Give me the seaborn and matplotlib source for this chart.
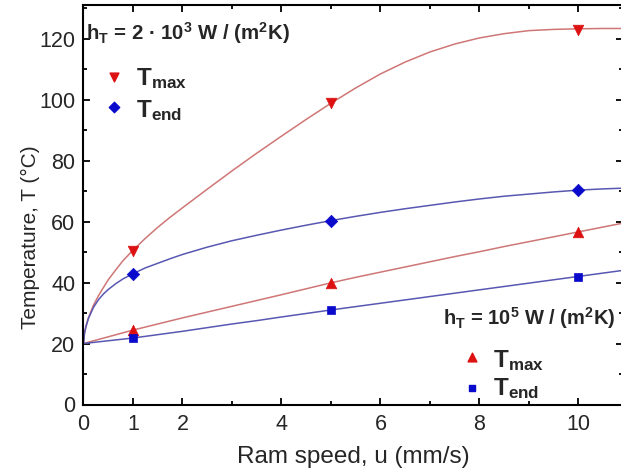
import numpy as np
import pandas as pd
import matplotlib
matplotlib.use("Agg")
import matplotlib.pyplot as plt
import seaborn as sns
from matplotlib.ticker import FixedLocator

# ---- data ----
u_meas = [1, 5, 10]
tmax_low_h = [50.3, 98.8, 122.9]     # h_T = 2e3
tend_low_h = [42.9, 60.3, 70.3]
tmax_high_h = [24.4, 39.9, 56.6]     # h_T = 1e5
tend_high_h = [21.8, 31.0, 41.9]

# fitted curves
u_curve = [0, 0.02, 0.05, 0.1, 0.2, 0.3, 0.4, 0.5, 0.65, 0.8, 1, 1.25, 1.5, 1.75, 2,
           2.5, 3, 3.5, 4, 4.5, 5, 5.5, 6, 6.5, 7, 7.5, 8, 8.5, 9, 9.5, 10, 10.5, 11]
fit_tmax_low_h = [20, 23.5, 25.8, 28.5, 32.5, 35.6, 38.3, 40.9, 44.1, 47.2, 50.6, 54.5,
                  58.1, 61.4, 64.5, 70.6, 76.6, 82.4, 88.0, 93.5, 98.8, 103.8, 108.4,
                  112.3, 115.6, 118.2, 120.2, 121.6, 122.6, 123.0, 123.2, 123.3, 123.3]
fit_tend_low_h = [20, 23.3, 25.5, 28.2, 31.8, 34.3, 36.2, 37.7, 39.6, 41.2, 42.9, 44.8,
                  46.3, 47.8, 49.2, 51.6, 53.7, 55.5, 57.2, 58.8, 60.3, 61.7, 63.0,
                  64.2, 65.3, 66.4, 67.4, 68.3, 69.0, 69.7, 70.3, 70.7, 71.0]
fit_tmax_high_h = [20, 20.09, 20.22, 20.44, 20.88, 21.32, 21.76, 22.2, 22.86, 23.52, 24.4,
                   25.4, 26.4, 27.4, 28.4, 30.3, 32.2, 34.1, 36.0, 37.95, 39.9, 41.7,
                   43.4, 45.1, 46.8, 48.5, 50.1, 51.8, 53.4, 55.0, 56.6, 58.2, 59.8]
fit_tend_high_h = [20, 20.04, 20.09, 20.18, 20.36, 20.54, 20.72, 20.9, 21.17, 21.44, 21.8,
                   22.35, 22.9, 23.45, 24.0, 25.2, 26.4, 27.5, 28.7, 29.85, 31.0, 32.1,
                   33.2, 34.3, 35.4, 36.5, 37.6, 38.7, 39.8, 40.9, 42.0, 43.1, 44.2]

x_ticks = [0, 1, 2, 4, 6, 8, 10]
x_minor = [3, 5, 7, 9]
y_ticks = [0, 20, 40, 60, 80, 100, 120]
y_minor = [10, 30, 50, 70, 90, 110, 130]

RED = "#dd1111"
BLUE = "#0a0acc"
RED_LINE = "#cf7676"
BLUE_LINE = "#5858b2"

sns.set_style("ticks")
plt.rcParams["font.family"] = ["Liberation Sans", "DejaVu Sans"]
plt.rcParams["mathtext.fontset"] = "custom"
plt.rcParams["mathtext.rm"] = "Liberation Sans:bold"
plt.rcParams["mathtext.it"] = "Liberation Sans:bold"
plt.rcParams["mathtext.bf"] = "Liberation Sans:bold"
plt.rcParams["mathtext.default"] = "bf"

fig = plt.figure(figsize=(6.21, 4.71), dpi=100)
ax = fig.add_axes([83.5 / 621, 66.5 / 471, 539.5 / 621, 399.5 / 471])

n = len(u_curve)
curves = pd.DataFrame({
    "u": u_curve * 4,
    "T": fit_tmax_low_h + fit_tend_low_h + fit_tmax_high_h + fit_tend_high_h,
    "series": ["a"] * n + ["b"] * n + ["c"] * n + ["d"] * n,
})
pal_lines = {"a": RED_LINE, "b": BLUE_LINE, "c": RED_LINE, "d": BLUE_LINE}
sns.lineplot(data=curves, x="u", y="T", hue="series", palette=pal_lines,
             linewidth=1.1, legend=False, ax=ax, sort=True)

marks = [
    (tmax_low_h, "v", RED, 58),
    (tend_low_h, "D", BLUE, 40),
    (tmax_high_h, "^", RED, 58),
    (tend_high_h, "s", BLUE, 40),
]
for vals, m, c, s in marks:
    sns.scatterplot(x=u_meas, y=vals, marker=m, color=c, s=s,
                    edgecolor=c, linewidth=0.5, ax=ax, zorder=5)

ax.set_xlim(0, 10.9)
ax.set_ylim(0, 131)
ax.xaxis.set_major_locator(FixedLocator(x_ticks))
ax.xaxis.set_minor_locator(FixedLocator(x_minor))
ax.yaxis.set_major_locator(FixedLocator(y_ticks))
ax.yaxis.set_minor_locator(FixedLocator(y_minor))
ax.tick_params(which="both", direction="in", top=True, right=True, width=1.3,
               color="black")
ax.tick_params(which="major", length=5, labelsize=15.5)
ax.tick_params(axis="x", which="major", pad=7)
ax.tick_params(axis="y", which="major", pad=6)
ax.tick_params(which="minor", length=3)
for sp in ax.spines.values():
    sp.set_visible(True)
    sp.set_linewidth(1.5)
    sp.set_color("black")

ax.set_xlabel("Ram speed, u (mm/s)", fontsize=17.5, labelpad=8)
ax.set_ylabel("Temperature, T (\u00b0C)", fontsize=15)
ax.yaxis.set_label_coords(-0.08, 0.42)

# annotations
ax.text(0.05, 119.5, "h$_T$ = 2 \u00b7 10$^3$ W / (m$^2$K)", fontsize=14.7,
        fontweight="bold", ha="left", va="baseline")
ax.scatter([0.62], [107.5], marker="v", color=RED, s=40, zorder=5)
ax.scatter([0.62], [97.5], marker="D", color=BLUE, s=28, zorder=5)
ax.text(1.06, 104.75, "T$_{max}$", fontsize=17.5, fontweight="bold",
        ha="left", va="baseline")
ax.text(1.06, 94.3, "T$_{end}$", fontsize=17.5, fontweight="bold",
        ha="left", va="baseline")

ax.text(10.74, 26.1, "h$_T$ = 10$^5$ W / (m$^2$K)", fontsize=14.5,
        fontweight="bold", ha="right", va="baseline")
ax.scatter([7.85], [15.5], marker="^", color=RED, s=40, zorder=5)
ax.scatter([7.85], [5.5], marker="s", color=BLUE, s=24, zorder=5)
ax.text(8.27, 12.3, "T$_{max}$", fontsize=17.5, fontweight="bold",
        ha="left", va="baseline")
ax.text(8.27, 3.1, "T$_{end}$", fontsize=17.5, fontweight="bold",
        ha="left", va="baseline")

fig.savefig("out.png", dpi=100)
